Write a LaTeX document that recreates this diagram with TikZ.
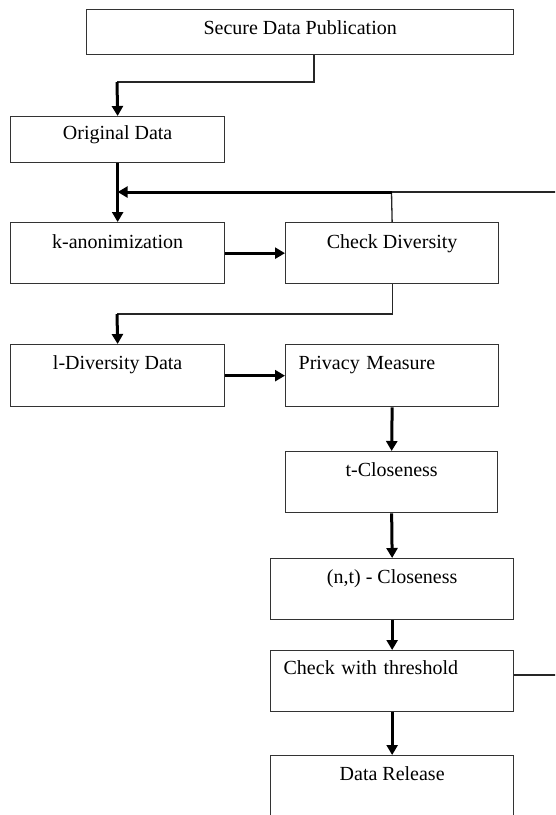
\documentclass[tikz,border=0pt]{standalone}
\usepackage{fontspec}
\setmainfont{Liberation Serif}
\usetikzlibrary{arrows.meta}
\begin{document}
\begin{tikzpicture}[x=1pt,y=-1pt,
  box/.style={draw=black!80, line width=1.3pt, inner sep=0pt, anchor=north west,
    font=\fontsize{20}{23}\selectfont},
  lite/.style={line width=1.3pt, draw=black!85},
  heavy/.style={line width=3pt},
  arr/.style={heavy, -{Triangle[length=10pt,width=11pt]}}]
\useasboundingbox (0,0) rectangle (555,815);
\clip (0,0) rectangle (555,815);
\fill[white] (0,0) rectangle (555,815);

% boxes
\node[box, minimum width=427pt, text height=25pt, text depth=20pt] (sec) at (86,9) {Secure Data Publication};
\node[box, minimum width=214pt, text height=23pt, text depth=23pt] (od) at (10,116) {Original Data};
\node[box, minimum width=214pt, text height=26pt, text depth=35pt] (ka) at (10,222) {k-anonimization};
\node[box, minimum width=213pt, text height=26pt, text depth=35pt] (cd) at (285,222) {Check Diversity};
\node[box, minimum width=214pt, text height=25pt, text depth=37pt] (ld) at (10,344) {l-Diversity Data};
\node[box, inner xsep=13pt, text width=187pt, align=left, text height=25pt, text depth=37pt] (pm) at (285,344) {Privacy Measure};
\node[box, minimum width=212pt, text height=25pt, text depth=36pt] (tc) at (285,451) {t-Closeness};
\node[box, minimum width=243pt, text height=25pt, text depth=36pt] (nt) at (270,558) {(n,t) - Closeness};
\node[box, inner xsep=13pt, text width=217pt, align=left, text height=24pt, text depth=37pt] (th) at (270,650) {Check with threshold};
\node[box, minimum width=243pt, text height=25pt, text depth=55pt] (dr) at (270,755) {Data Release};

% junction coordinates
\coordinate (j1) at (117,82);
\coordinate (fb) at (391.5,192);
\coordinate (fbR) at (560,192);
\coordinate (j2) at (117,314);
\coordinate (thR) at (560,675);

% connectors
\draw[lite] (314,0 |- sec.south) |- (j1);
\draw[arr] (j1) -- (od.north);
\draw[arr] (od.south) -- (ka.north);
\draw[lite] (cd.north) -- (fb);
\draw[arr] (fb) -- (ka.north |- fb);
\draw[lite] (fb) -- (fbR);
\draw[arr] (ka.east) -- (cd.west);
\draw[lite] (cd.south) |- (j2);
\draw[arr] (j2) -- (ld.north);
\draw[arr] (ld.east) -- (pm.west);
\draw[arr] (pm.south) -- (tc.north);
\draw[arr] (tc.south) -- (nt.north);
\draw[arr] (nt.south) -- (th.north);
\draw[arr] (th.south) -- (dr.north);
\draw[lite] (th.east |- thR) -- (thR);
\end{tikzpicture}
\end{document}
